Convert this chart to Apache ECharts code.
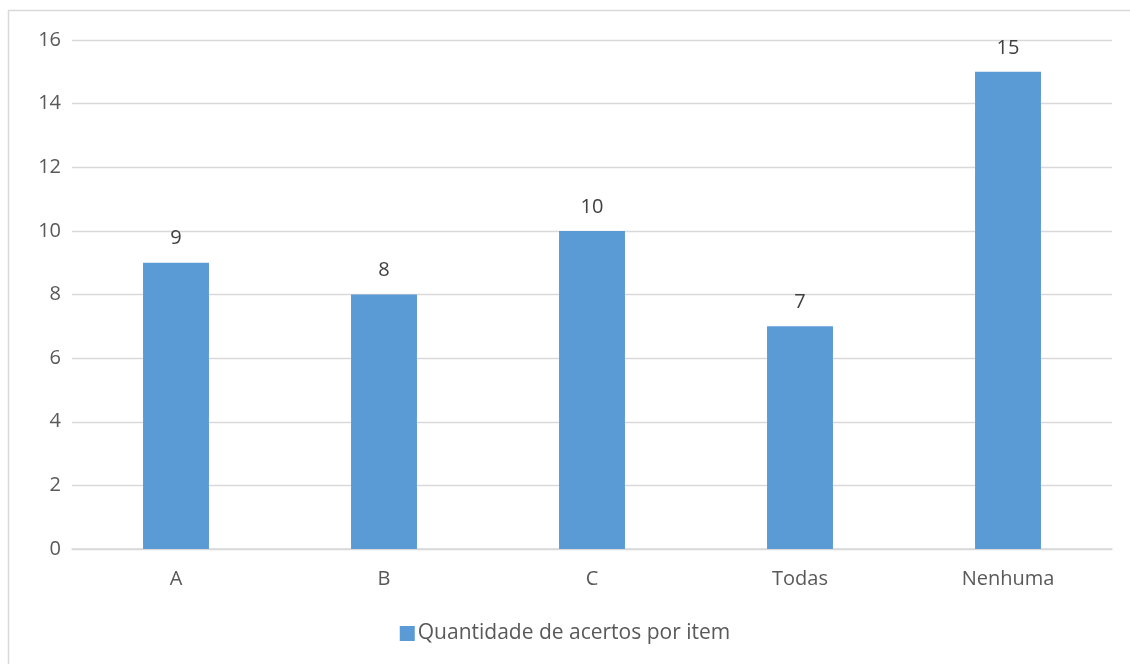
<!DOCTYPE html>
<html>
<head>
<meta charset="utf-8">
<script src="https://cdn.jsdelivr.net/npm/echarts@6/dist/echarts.min.js"></script>
<style>
  html, body { margin: 0; padding: 0; background: #fff; }
  #chart { width: 1130px; height: 664px; }
</style>
</head>
<body>
<div id="chart"></div>
<script>
const categories = ['A', 'B', 'C', 'Todas', 'Nenhuma']
const acertos = [9, 8, 10, 7, 15]
const seriesName = 'Quantidade de acertos por item'

const chart = echarts.init(document.getElementById('chart'))
chart.setOption({
  animation: false,
  textStyle: { fontFamily: 'Open Sans, Lato, sans-serif' },
  graphic: [{
    type: 'rect',
    shape: { x: 8.5, y: 10.5, width: 1130, height: 660 },
    style: { fill: 'none', stroke: '#d9d9d9', lineWidth: 1.5 },
    silent: true
  }],
  grid: { left: 72, right: 18, top: 40, bottom: 115 },
  legend: {
    bottom: 15,
    left: 'center',
    itemWidth: 15,
    itemHeight: 15,
    itemGap: 6,
    icon: 'rect',
    textStyle: { fontSize: 21, color: '#595959', padding: [0, 0, 0, -2] },
    data: [seriesName]
  },
  xAxis: {
    type: 'category',
    data: categories,
    axisLine: { lineStyle: { color: '#d9d9d9', width: 1.5 } },
    axisTick: { show: false },
    axisLabel: { fontSize: 20, color: '#595959', margin: 20 }
  },
  yAxis: {
    type: 'value',
    min: 0,
    max: 16,
    interval: 2,
    axisLine: { show: false },
    axisTick: { show: false },
    splitLine: { lineStyle: { color: '#d9d9d9', width: 1.3 } },
    axisLabel: { fontSize: 20, color: '#595959', margin: 11 }
  },
  series: [{
    name: seriesName,
    type: 'bar',
    data: acertos,
    barWidth: '31.7%',
    itemStyle: { color: '#5b9bd5' },
    label: {
      show: true,
      position: 'top',
      distance: 14,
      fontSize: 20,
      color: '#404040'
    }
  }]
})
</script>
</body>
</html>
